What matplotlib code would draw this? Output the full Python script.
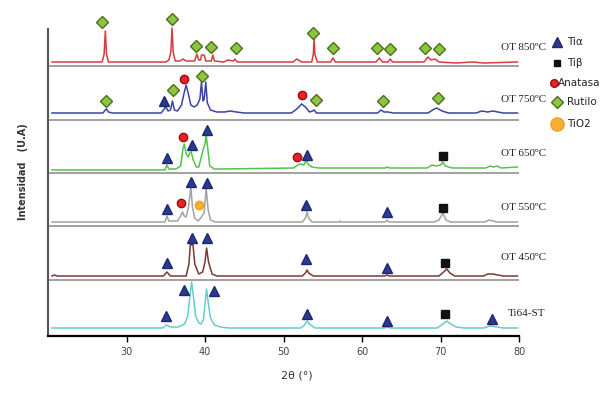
import matplotlib.pyplot as plt

# XRD patterns, 2theta (deg) vs intensity above each pattern's baseline (a.u.)
samples = ['OT 850ºC', 'OT 750ºC', 'OT 650ºC', 'OT 550ºC', 'OT 450ºC', 'Ti64-ST']

pts_850 = [(20.5, 0), (26.9, 0), (27.15, 8), (27.3, 31), (27.45, 8), (27.7, 0),
           (35.0, 0), (35.4, 2), (35.65, 10), (35.8, 34), (35.95, 10), (36.2, 1),
           (36.8, 1), (37.2, 3), (37.6, 1), (38.7, 1), (38.95, 8), (39.2, 2),
           (39.45, 2), (39.55, 7), (39.9, 7), (40.1, 1), (40.8, 1), (41.0, 7),
           (41.2, 1), (42.4, 0), (42.9, 2), (43.6, 1), (43.8, 3), (44.1, 0),
           (51.2, 0), (51.7, 3), (52.3, 0), (53.6, 0), (53.8, 8), (53.9, 24),
           (54.0, 8), (54.3, 0), (56.0, 0), (56.3, 4), (56.6, 0), (61.8, 0),
           (62.2, 4), (62.6, 0), (63.3, 0), (63.6, 3), (63.9, 0), (67.9, 0),
           (68.4, 5), (68.8, 2), (69.3, 3), (69.8, 0), (72.0, -1), (74.0, 0),
           (75.5, -1), (79.8, 0)]

pts_750 = [(20.5, 0), (27.0, 0), (27.3, 3), (27.45, 4), (27.7, 1), (28.2, 0),
           (34.4, 0), (34.8, 4), (35.0, 6), (35.3, 2), (35.6, 3), (35.85, 12),
           (36.1, 3), (36.5, 2), (37.0, 8), (37.4, 22), (37.6, 28), (37.85, 20),
           (38.2, 8), (38.6, 6), (39.0, 8), (39.35, 14), (39.55, 31), (39.75, 12),
           (39.9, 14), (40.1, 31), (40.3, 10), (40.7, 3), (41.5, 1), (42.5, 1),
           (43.2, 2), (44.0, 1), (45.0, 0), (51.0, 0), (51.7, 4), (52.3, 9),
           (52.8, 6), (53.3, 1), (53.7, 2), (53.9, 3), (54.2, 0), (62.0, 0),
           (62.4, 3), (62.8, 1), (63.3, 1), (64.0, 0), (68.4, 0), (69.0, 3),
           (69.5, 5), (70.2, 2), (71.0, 0), (74.5, 0), (75.3, 2), (76.0, 1),
           (76.7, 2), (77.3, 1), (78.0, 0), (79.8, 0)]

pts_650 = [(20.5, 0), (34.9, 0), (35.15, 5), (35.4, 1), (36.3, 1), (36.9, 4),
           (37.2, 22), (37.35, 26), (37.6, 16), (37.85, 13), (38.05, 17),
           (38.25, 18), (38.5, 10), (38.9, 3), (39.2, 3), (39.5, 12), (39.75, 20),
           (40.0, 26), (40.15, 35), (40.35, 22), (40.6, 4), (41.2, 1), (42.0, 1),
           (51.3, 2), (51.8, 5), (52.2, 6), (52.6, 5), (52.9, 10), (53.1, 6),
           (53.6, 3), (54.5, 2), (63.0, 2), (63.2, 3), (63.5, 2), (68.3, 2),
           (68.9, 5), (69.5, 4), (70.0, 5), (70.3, 8), (70.6, 4), (71.5, 2),
           (75.8, 2), (76.3, 4), (76.8, 3), (77.2, 4), (77.7, 2), (79.8, 3)]

pts_550 = [(20.5, 0), (34.9, 0), (35.15, 6), (35.4, 1), (36.5, 1), (36.9, 6),
           (37.15, 10), (37.35, 6), (37.6, 5), (37.9, 15), (38.2, 35), (38.4, 15),
           (38.7, 4), (39.1, 1), (39.45, 4), (39.7, 7), (39.9, 9), (40.15, 34),
           (40.4, 12), (40.7, 2), (41.3, 0), (52.4, 0), (52.8, 4), (53.0, 10),
           (53.2, 4), (53.6, 0), (57.1, 0), (57.2, 1), (57.3, 0), (63.0, 0),
           (63.2, 2), (63.4, 0), (69.2, 0), (69.8, 2), (70.3, 9), (70.7, 2),
           (71.3, 0), (75.6, 0), (76.2, 2), (76.7, 1), (77.2, 0), (79.8, 0)]

pts_450 = [(20.5, 0), (20.8, 1), (21.2, 0), (34.7, 0), (35.15, 4), (35.6, 0),
           (37.6, 0), (37.95, 12), (38.15, 33), (38.3, 31), (38.45, 33),
           (38.7, 12), (39.2, 2), (39.7, 4), (40.0, 14), (40.2, 28), (40.45, 14),
           (40.9, 2), (41.5, 0), (52.4, 0), (52.8, 3), (53.0, 6), (53.2, 3),
           (53.8, 0), (62.9, 0), (63.2, 1), (63.5, 0), (69.8, 0), (70.4, 4),
           (70.8, 7), (71.2, 3), (71.8, 0), (75.5, 0), (76.0, 2), (76.7, 2),
           (77.3, 1), (78.0, 0), (79.8, 0)]

pts_st = [(20.5, 0), (32.5, 0), (34.6, 0), (35.1, 3), (35.6, 1), (36.6, 1),
          (37.4, 4), (37.8, 12), (38.05, 30), (38.3, 46), (38.55, 30),
          (38.8, 12), (39.2, 5), (39.5, 4), (39.8, 8), (40.05, 28), (40.2, 39),
          (40.4, 26), (40.7, 10), (41.2, 3), (42.0, 1), (43.0, 0), (52.2, 0),
          (52.7, 3), (53.0, 7), (53.3, 4), (54.0, 0), (62.8, 0), (63.2, 1),
          (63.6, 0), (69.6, 0), (70.3, 4), (70.8, 7), (71.3, 4), (72.0, 1),
          (73.0, 0), (75.5, 0), (76.3, 2), (77.2, 1), (78.0, 0), (79.8, 0)]

patterns = [pts_850, pts_750, pts_650, pts_550, pts_450, pts_st]

# phase markers: (2theta, height above baseline)
ti_alpha = [[], [(34.78, 12)],
            [(35.16, 12), (38.34, 25), (40.25, 40), (52.99, 15)],
            [(35.16, 13), (38.22, 40), (40.25, 39), (52.87, 17), (63.18, 10)],
            [(35.16, 13), (38.34, 38), (40.25, 38), (52.87, 17), (63.18, 8)],
            [(35.03, 12), (37.32, 38), (41.15, 37), (52.99, 14), (63.18, 7), (76.56, 9)]]
ti_beta = [[], [], [(70.32, 14)], [(70.32, 14)], [(70.57, 13)], [(70.57, 14)]]
anatasa = [[], [(37.32, 34), (52.36, 18)], [(37.2, 33), (51.72, 13)], [(36.94, 19)], [], []]
rutilo = [[(26.88, 40), (35.8, 43), (38.85, 16), (40.76, 15), (43.95, 14), (53.76, 29),
           (56.3, 14), (61.9, 14), (63.57, 13), (68.03, 14), (69.8, 13)],
          [(27.39, 12), (35.92, 23), (39.62, 37), (54.14, 13), (62.68, 12), (69.68, 15)],
          [], [], [], []]
tio2 = [[], [], [], [(39.24, 17)], [], []]

# layout (in axis units = pixels)
offsets = [274, 223, 166, 114, 60, 8]
separators = [270, 216, 163, 110, 56]
label_pos = [(77.7, 289), (77.7, 237), (77.7, 183), (77.7, 129), (77.7, 78), (78.6, 23)]
colors = ['#d63c44', '#3b44a6', '#55c24c', '#a3a3a3', '#7a3838', '#66cccc']

fig = plt.figure(figsize=(6.12, 3.98), dpi=100)
ax = fig.add_axes([48 / 612, 62 / 398, 471 / 612, 328 / 398])

ax.hlines(separators, 20, 80, color='#9a9a9a', lw=1.3, zorder=1)

for pts, off, col in zip(patterns, offsets, colors):
    xs = [p[0] for p in pts]
    ys = [p[1] + off for p in pts]
    ax.plot(xs, ys, color=col, lw=1.1, zorder=2)

styles = [
    (ti_alpha, dict(marker='^', ms=6.8, mfc='#2b3990', mec='#1d2870')),
    (ti_beta, dict(marker='s', ms=5.2, mfc='#111111', mec='#111111')),
    (anatasa, dict(marker='o', ms=6.0, mfc='#e8222a', mec='#9a1010')),
    (rutilo, dict(marker='D', ms=6.3, mfc='#8cc63f', mec='#4d6e1f')),
    (tio2, dict(marker='o', ms=6.0, mfc='#fbb034', mec='#f0a020')),
]
for data, st in styles:
    for pts, off in zip(data, offsets):
        if pts:
            ax.plot([p[0] for p in pts], [p[1] + off for p in pts],
                    ls='none', zorder=4, **st)

for name, (lx, ly) in zip(samples, label_pos):
    ax.text(lx, ly, name, fontsize=8, family='Liberation Serif',
            color='#222222', va='center', ha='left', clip_on=False)

ax.set_xlim(20, 80)
ax.set_ylim(0, 328)
ax.set_xticks([30, 40, 50, 60, 70, 80])
ax.set_yticks([])
ax.tick_params(axis='x', direction='out', length=4, width=1, labelsize=7,
               labelcolor='#444444', pad=4)
for s in ['top', 'right']:
    ax.spines[s].set_visible(False)
ax.spines['left'].set_bounds(0, 307)
ax.spines['left'].set_color('#555555')
ax.spines['left'].set_linewidth(1.5)
ax.spines['bottom'].set_linewidth(1.6)

fig.text(23 / 612, 1 - 172 / 398, 'Intensidad   (U.A)', rotation=90,
         fontsize=7, color='#333333', ha='center', va='center',
         fontweight='semibold')
fig.text(297 / 612, 1 - 375 / 398, '2θ (°)', fontsize=8, color='#333333',
         ha='center', va='center')

# legend drawn by hand at the right
leg = [('^', '#2b3990', '#1d2870', 6.8, 'Tiα', 42),
       ('s', '#111111', '#111111', 5, 'Tiβ', 63),
       ('o', '#e8222a', '#9a1010', 5.5, 'Anatasa', 83),
       ('D', '#8cc63f', '#4d6e1f', 6.3, 'Rutilo', 102),
       ('o', '#fbb034', '#f0a020', 9.5, 'TiO2', 124)]
lax = fig.add_axes([0, 0, 1, 1], facecolor='none')
lax.set_xlim(0, 612)
lax.set_ylim(398, 0)
lax.axis('off')
for m, fc, ec, ms, txt, y in leg:
    mx = 554 if txt == 'Anatasa' else 557
    tx = 558 if txt == 'Anatasa' else 567
    lax.plot([mx], [y], marker=m, ms=ms, mfc=fc, mec=ec, ls='none')
    lax.text(tx, y, txt, fontsize=7.5, color='#222222', va='center', ha='left')

fig.savefig('out.png', dpi=100)
